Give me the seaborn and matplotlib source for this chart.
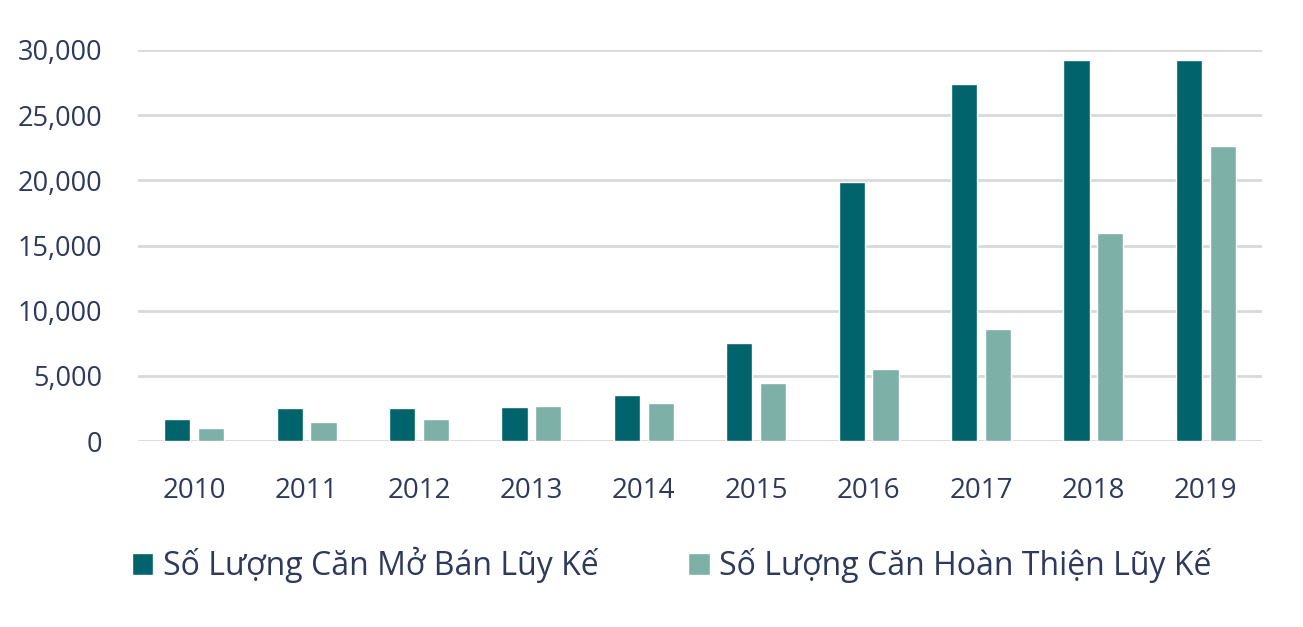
import matplotlib
matplotlib.use('Agg')
import matplotlib.pyplot as plt
import pandas as pd
import seaborn as sns
from matplotlib.ticker import FuncFormatter

# données
years = ['2010', '2011', '2012', '2013', '2014', '2015', '2016', '2017', '2018', '2019']
mo_ban = [1700, 2530, 2530, 2600, 3550, 7520, 19880, 27400, 29240, 29240]
hoan_thien = [1000, 1460, 1700, 2700, 2900, 4450, 5530, 8600, 15960, 22640]
series_names = ['Số Lượng Căn Mở Bán Lũy Kế', 'Số Lượng Căn Hoàn Thiện Lũy Kế']
colors = ['#01636B', '#7DB0A7']
text_color = '#2D3A5E'

df = pd.DataFrame({
    'Năm': years * 2,
    'Giá trị': mo_ban + hoan_thien,
    'Loại': [series_names[0]] * len(years) + [series_names[1]] * len(years),
})

sns.set_theme(style='white')
plt.rcParams['font.family'] = ['Open Sans', 'DejaVu Sans']

fig = plt.figure(figsize=(13.03, 6.27), dpi=100)
ax = fig.add_axes([138 / 1303, 1 - 441 / 627, 1124 / 1303, 391 / 627])

sns.barplot(data=df, x='Năm', y='Giá trị', hue='Loại', palette=colors,
            width=0.6, gap=0.22, ax=ax, saturation=1)

ax.set_ylim(0, 30000)
ax.set_xlim(-0.5, 9.5)
ax.set_yticks(range(0, 30001, 5000))
ax.yaxis.set_major_formatter(FuncFormatter(lambda v, p: f'{int(v):,}'))
ax.grid(axis='y', color='#D9D9D9', linewidth=2)
ax.set_axisbelow(True)
for s in ax.spines.values():
    s.set_visible(False)
ax.tick_params(axis='y', length=0, pad=26, labelsize=19.5, labelcolor=text_color)
ax.tick_params(axis='x', length=0, pad=26, labelsize=20, labelcolor=text_color)
ax.set_xlabel('')
ax.set_ylabel('')

ax.legend(loc='center left', bbox_to_anchor=(-0.017, -0.318), ncol=2, frameon=False,
          fontsize=23, labelcolor=text_color, handlelength=0.68, handleheight=0.68,
          handletextpad=0.3, columnspacing=2.8, borderaxespad=0)

fig.savefig('out.png', dpi=100)
